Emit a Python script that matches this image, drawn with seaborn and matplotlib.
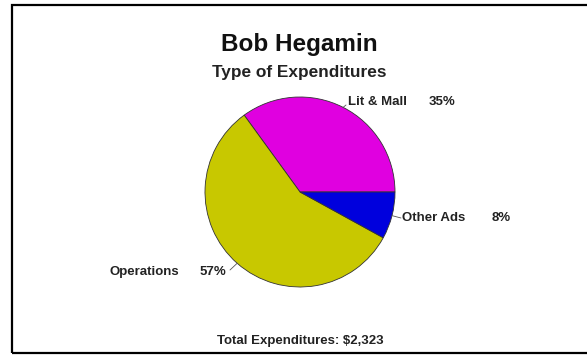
import matplotlib
matplotlib.use("Agg")
import matplotlib.pyplot as plt
import matplotlib.patches as mpatches
import numpy as np
import seaborn as sns

# Data
categories = ["Lit & Mall", "Operations", "Other Ads"]
shares = [35, 57, 8]
pct_labels = ["35%", "57%", "8%"]
slice_colors = ["#e000e0", "#c8c800", "#0000dd"]
title = "Bob Hegamin"
subtitle = "Type of Expenditures"
footer = "Total Expenditures: $2,323"

# Label placement (pixel coordinates, measured from the top-left corner)
W, H = 587, 355
name_x = [348, 110, 402]
pct_x = [429, 200, 492]
label_y = [102, 272, 218]
line_end = [(346, 105), (230, 270), (401, 218)]

sns.set_style("white")
plt.rcParams["font.family"] = ["Liberation Sans", "DejaVu Sans"]

fig = plt.figure(figsize=(W / 100, H / 100), dpi=100)
ax = fig.add_axes([0, 0, 1, 1])
ax.set_xlim(0, W)
ax.set_ylim(0, H)
ax.set_aspect("equal")
ax.axis("off")

cx, cy, r = 300, H - 192, 95
wedges, _ = ax.pie(shares, colors=slice_colors, startangle=0, counterclock=True,
                   center=(cx, cy), radius=r,
                   wedgeprops=dict(edgecolor="#333333", linewidth=0.6))
ax.set_xlim(0, W)
ax.set_ylim(0, H)

for w, name, pct, nx, px, ly, (ex, ey) in zip(wedges, categories, pct_labels,
                                               name_x, pct_x, label_y, line_end):
    mid = np.deg2rad((w.theta1 + w.theta2) / 2)
    ax.annotate("", xy=(cx + r * np.cos(mid), cy + r * np.sin(mid)),
                xytext=(ex, H - ey),
                arrowprops=dict(arrowstyle="-", color="#555555", lw=0.6,
                                shrinkA=0, shrinkB=0))
    ax.text(nx, H - ly, name, ha="left", va="center", fontsize=9.5,
            fontweight="bold", color="#222222")
    ax.text(px, H - ly, pct, ha="left", va="center", fontsize=9.5,
            fontweight="bold", color="#222222")

ax.text(299, H - 45, title, ha="center", va="center", fontsize=17.5,
        fontweight="bold", color="#111111")
ax.text(299, H - 72, subtitle, ha="center", va="center", fontsize=12.4,
        fontweight="bold", color="#222222")
ax.text(300, H - 341, footer, ha="center", va="center", fontsize=9.5,
        fontweight="bold", color="#222222")

# Frame around the chart (right side runs off the image)
ax.add_patch(mpatches.Rectangle((12, H - 353), 620, 348, fill=False,
                                edgecolor="black", linewidth=1.6, clip_on=False))

fig.savefig("out.png", dpi=100, facecolor="white")
